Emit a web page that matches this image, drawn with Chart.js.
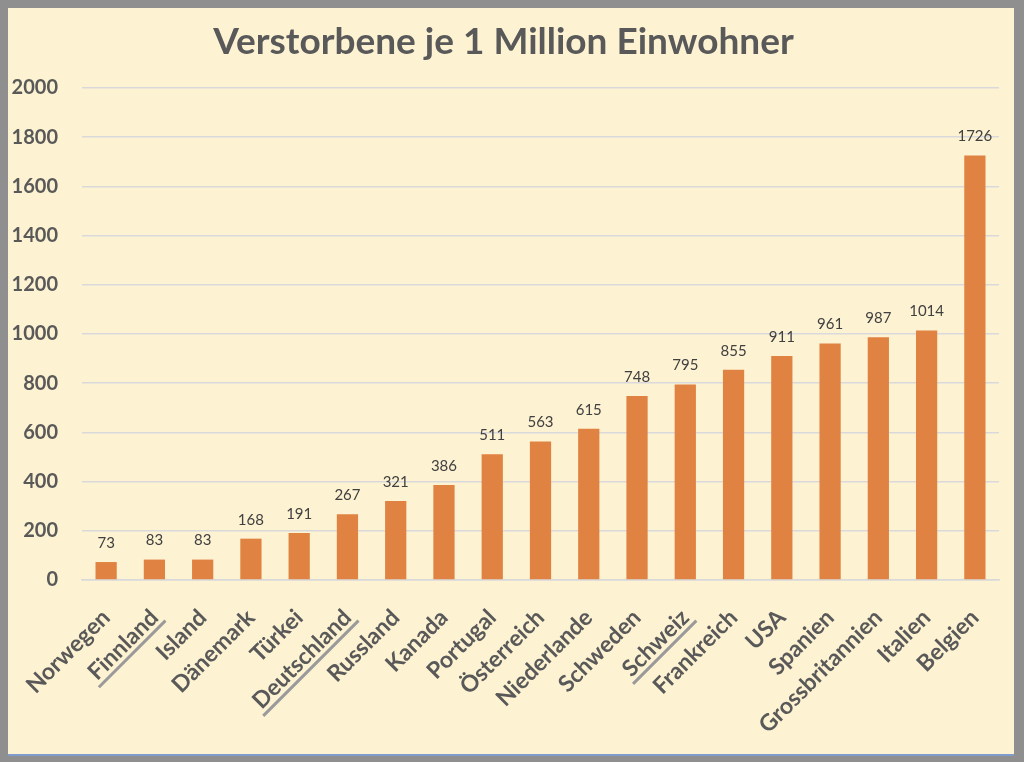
<!DOCTYPE html>
<html>
<head>
<meta charset="utf-8">
<script src="https://cdn.jsdelivr.net/npm/chart.js@4.4.1/dist/chart.umd.min.js"></script>
<style>
  html, body { margin: 0; padding: 0; }
  body { width: 1024px; height: 762px; background: #8f8f8f; position: relative; overflow: hidden; }
  #panel {
    position: absolute; left: 8px; top: 8px; width: 1006px; height: 746px;
    background: #fdf2d2; border-bottom: 2px solid #7f9ccc;
  }
  #panel canvas { display: block; }
</style>
</head>
<body>
<div id="panel"><canvas id="deathsChart" width="1006" height="746"></canvas></div>
<script>
const countries = ['Norwegen', 'Finnland', 'Island', 'Dänemark', 'Türkei', 'Deutschland', 'Russland', 'Kanada',
    'Portugal', 'Österreich', 'Niederlande', 'Schweden', 'Schweiz', 'Frankreich', 'USA', 'Spanien',
    'Grossbritannien', 'Italien', 'Belgien'];
const deathsPerMillion = [73, 83, 83, 168, 191, 267, 321, 386, 511, 563, 615, 748, 795, 855, 911, 961, 987, 1014, 1726];
const underlined = ['Finnland', 'Deutschland', 'Schweiz'];
const yTicks = [0, 200, 400, 600, 800, 1000, 1200, 1400, 1600, 1800, 2000];

const textColor = '#595959';
const fontFamily = 'Lato, "Open Sans", sans-serif';

// value labels above the bars
const valueLabels = {
    id: 'valueLabels',
    afterDatasetsDraw(chart) {
        const ctx = chart.ctx;
        const meta = chart.getDatasetMeta(0);
        ctx.save();
        ctx.font = '15px ' + fontFamily;
        ctx.fillStyle = '#404040';
        ctx.textAlign = 'center';
        ctx.textBaseline = 'middle';
        meta.data.forEach((bar, i) => {
            ctx.fillText(String(deathsPerMillion[i]), bar.x, bar.y - 19);
        });
        ctx.restore();
    }
};

// gray underline under some of the x labels
const labelUnderline = {
    id: 'labelUnderline',
    afterDraw(chart) {
        const xScale = chart.scales.x;
        const items = xScale.getLabelItems();
        const ctx = chart.ctx;
        ctx.save();
        items.forEach((item) => {
            if (!underlined.includes(item.label)) return;
            ctx.save();
            ctx.font = item.font.string;
            const w = ctx.measureText(item.label).width;
            const [tx, ty] = item.options.translation;
            ctx.translate(tx, ty);
            ctx.rotate(item.options.rotation);
            ctx.strokeStyle = '#9a9a9a';
            ctx.lineWidth = 3;
            const y = item.textOffset + item.font.size * 0.55;
            ctx.beginPath();
            ctx.moveTo(-w - 3, y);
            ctx.lineTo(3, y);
            ctx.stroke();
            ctx.restore();
        });
        ctx.restore();
    }
};

new Chart(document.getElementById('deathsChart'), {
    type: 'bar',
    data: {
        labels: countries,
        datasets: [{
            label: 'Verstorbene je 1 Million Einwohner',
            data: deathsPerMillion,
            backgroundColor: '#e08241',
            borderWidth: 0,
            barPercentage: 0.44,
            categoryPercentage: 1
        }]
    },
    options: {
        responsive: false,
        animation: false,
        layout: { padding: { left: 0, right: 15, top: 0, bottom: 0 } },
        plugins: {
            legend: { display: false },
            tooltip: { enabled: false },
            title: {
                display: true,
                text: 'Verstorbene je 1 Million Einwohner',
                color: textColor,
                font: { family: fontFamily, size: 37, weight: 'bold', lineHeight: 1.2 },
                padding: { top: 12, bottom: 23.6 }
            }
        },
        scales: {
            y: {
                min: 0,
                max: 2000,
                afterBuildTicks: (scale) => { scale.ticks = yTicks.map(v => ({ value: v })); },
                afterFit: (scale) => { scale.width = 74; },
                border: { display: false },
                grid: { color: '#d9d9dc', lineWidth: 1.5, drawTicks: false },
                ticks: {
                    color: textColor,
                    padding: 24,
                    callback: (value) => String(value),
                    font: { family: fontFamily, size: 20, weight: 'bold' }
                }
            },
            x: {
                afterFit: (scale) => { scale.height = 174; },
                border: { color: '#d9d9dc', width: 1.5 },
                grid: { display: false },
                ticks: {
                    color: textColor,
                    minRotation: 45,
                    maxRotation: 45,
                    autoSkip: false,
                    padding: 16,
                    font: { family: fontFamily, size: 23, weight: 'bold' }
                }
            }
        }
    },
    plugins: [valueLabels, labelUnderline]
});
</script>
</body>
</html>
